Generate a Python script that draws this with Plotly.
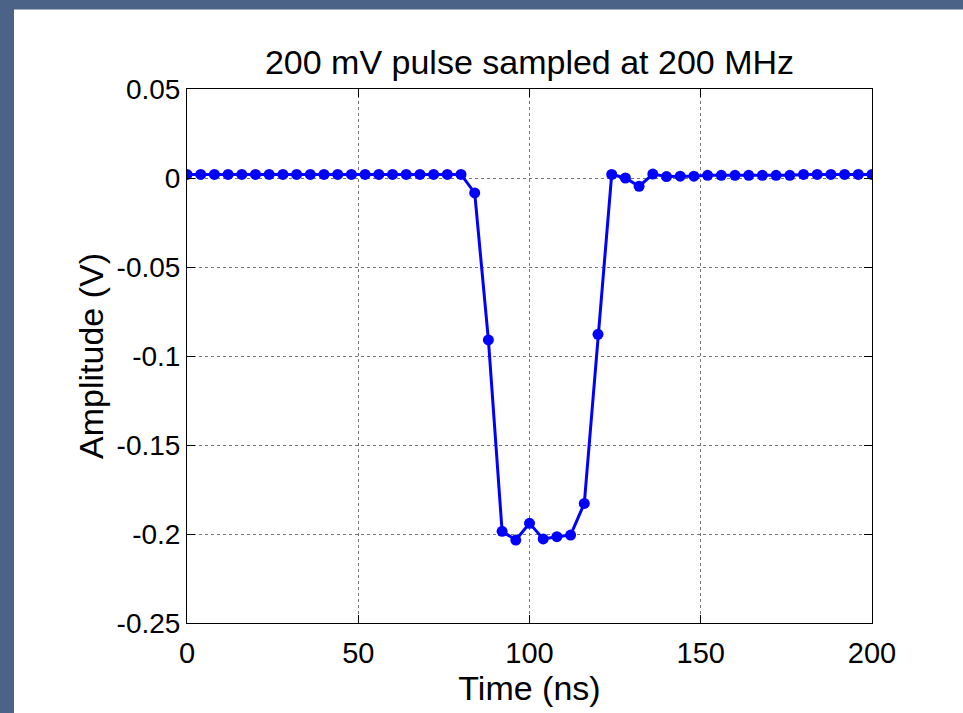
import plotly.graph_objects as go

# Data: 200 mV pulse, samples every 4 ns
time_ns = [0, 4, 8, 12, 16, 20, 24, 28, 32, 36, 40, 44, 48, 52, 56, 60, 64, 68, 72, 76, 80,
           84, 88, 92, 96, 100, 104, 108, 112, 116, 120, 124, 128, 132, 136, 140, 144, 148,
           152, 156, 160, 164, 168, 172, 176, 180, 184, 188, 192, 196, 200]
amplitude_v = [0.002, 0.002, 0.002, 0.002, 0.002, 0.002, 0.002, 0.002, 0.002, 0.002, 0.002,
               0.002, 0.002, 0.002, 0.002, 0.002, 0.002, 0.002, 0.002, 0.002, 0.002,
               -0.0084, -0.091, -0.1985, -0.2034, -0.194, -0.2028, -0.2015, -0.2006, -0.1828,
               -0.0878, 0.002, 0.0, -0.0047, 0.0022, 0.0008, 0.001, 0.001,
               0.0015, 0.0015, 0.0015, 0.0015, 0.0015, 0.0015, 0.0015, 0.002, 0.002, 0.002,
               0.002, 0.002, 0.002]

x_ticks = [0, 50, 100, 150, 200]
y_ticks = [0.05, 0, -0.05, -0.1, -0.15, -0.2, -0.25]
y_tick_labels = ["0.05", "0", "-0.05", "-0.1", "-0.15", "-0.2", "-0.25"]

W, H = 963, 713
L, R, T, B = 187, 91, 88.5, 90
pw, ph = W - L - R, H - T - B

fig = go.Figure()
fig.add_trace(go.Scatter(
    x=time_ns, y=amplitude_v, mode="lines+markers",
    line=dict(color="#0000ff", width=3),
    marker=dict(color="#0000ff", size=11),
    showlegend=False,
))

font_family = "Liberation Sans, Arial, sans-serif"

# white panel on the blue background
fig.add_shape(
    type="rect", xref="paper", yref="paper", layer="below",
    x0=(14 - L) / pw, x1=(W - L) / pw,
    y0=(H - B - H) / ph, y1=(H - B - 9) / ph,
    fillcolor="white", line=dict(width=0),
)

axis_common = dict(
    showline=True, linecolor="black", linewidth=1, mirror="ticks",
    ticks="inside", ticklen=8, tickcolor="black",
    showgrid=True, gridcolor="#777777", griddash="dot", gridwidth=1,
    zeroline=False,
)

fig.update_xaxes(
    range=[0, 200], tickvals=x_ticks,
    tickfont=dict(family=font_family, size=29, color="black"),
    ticklabelstandoff=4,
    title=dict(text="Time (ns)", font=dict(family=font_family, size=34, color="black"), standoff=6),
    **axis_common,
)
fig.update_yaxes(
    range=[-0.25, 0.05], tickvals=y_ticks, ticktext=y_tick_labels,
    tickfont=dict(family=font_family, size=28, color="black"),
    title=dict(text="Amplitude (V)", font=dict(family=font_family, size=34, color="black"), standoff=2),
    **axis_common,
)

fig.update_layout(
    width=W, height=H,
    margin=dict(l=L, r=R, t=T, b=B),
    paper_bgcolor="#4b6387",
    plot_bgcolor="white",
    title=dict(
        text="200 mV pulse sampled at 200 MHz",
        font=dict(family=font_family, size=34, color="black"),
        x=(L + pw / 2) / W, xanchor="center",
        y=1 - 62 / H, yanchor="middle", yref="container",
    ),
)

fig.write_html("out.html")
